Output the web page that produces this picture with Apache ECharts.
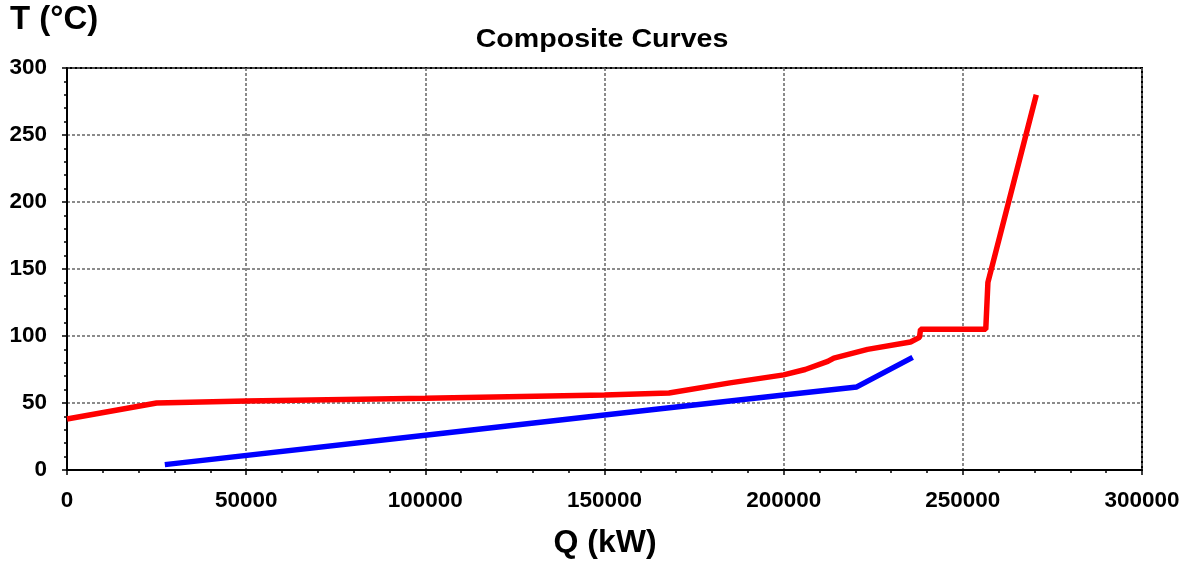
<!DOCTYPE html>
<html><head><meta charset="utf-8">
<script src="https://cdn.jsdelivr.net/npm/echarts@6/dist/echarts.min.js"></script>
<style>html,body{margin:0;padding:0;background:#fff}#c{width:1189px;height:566px}</style>
</head><body><div id="c"></div>
<script>
const hotQ = [0, 25000, 50000, 100000, 150000, 168000, 185000, 200000, 206000, 212300, 214000, 223400, 235400, 237900, 238200, 256400, 257000, 270500];
const hotT = [38, 50, 51.5, 53.5, 56, 57.5, 65, 71, 75, 81, 83.5, 90, 95.5, 99, 105, 105, 140, 280];
const coldQ = [27300, 100000, 150000, 200000, 220400, 236000];
const coldT = [4, 26, 41, 56, 62, 84];
const xTicks = [0, 50000, 100000, 150000, 200000, 250000, 300000];
const yTicks = [0, 50, 100, 150, 200, 250, 300];

const font = 'Liberation Sans, Arial, sans-serif';
const chart = echarts.init(document.getElementById('c'));
const pair = (a, b) => a.map((v, i) => [v, b[i]]);
chart.setOption({
  animation: false,
  graphic: [
    { type: 'text', x: 602, y: 27, style: { text: 'Composite Curves', font: 'bold 26px ' + font, fill: '#000', textAlign: 'center' }, scaleX: 1.1, originX: 0 },
    { type: 'text', x: 10, y: 3, style: { text: 'T (°C)', font: 'bold 33px ' + font, fill: '#000' } },
    { type: 'text', x: 605, y: 527, style: { text: 'Q (kW)', font: 'bold 32px ' + font, fill: '#000', textAlign: 'center' } }
  ],
  grid: { left: 67, right: 47, top: 68, bottom: 96, show: true, borderColor: '#000', borderWidth: 2, backgroundColor: 'transparent' },
  xAxis: {
    type: 'value', min: xTicks[0], max: xTicks[xTicks.length - 1], interval: 50000,
    axisLine: { lineStyle: { color: '#000', width: 2 } },
    axisTick: { show: true, length: 5, lineStyle: { color: '#000', width: 1.5 } },
    minorTick: { show: true, splitNumber: 5, length: 3, lineStyle: { color: '#000', width: 1.5 } },
    splitLine: { show: true, lineStyle: { color: '#666', width: 1.5, type: [3, 2] } },
    axisLabel: { margin: 19, formatter: v => String(v), fontFamily: font, fontWeight: 'bold', fontSize: 22.5, color: '#000' }
  },
  yAxis: {
    type: 'value', min: yTicks[0], max: yTicks[yTicks.length - 1], interval: 50,
    axisLine: { show: true, lineStyle: { color: '#000', width: 2 } },
    axisTick: { show: true, length: 5, lineStyle: { color: '#000', width: 1.5 } },
    minorTick: { show: true, splitNumber: 5, length: 3, lineStyle: { color: '#000', width: 1.5 } },
    splitLine: { show: true, lineStyle: { color: '#666', width: 1.5, type: [3, 2] } },
    axisLabel: { margin: 20, formatter: v => String(v), fontFamily: font, fontWeight: 'bold', fontSize: 22.5, color: '#000' }
  },
  series: [
    { type: 'line', data: pair(hotQ, hotT), showSymbol: false, lineStyle: { color: '#ff0000', width: 5.5 }, z: 3 },
    { type: 'line', data: pair(coldQ, coldT), showSymbol: false, lineStyle: { color: '#0000ff', width: 5.5 }, z: 3 }
  ]
});
</script></body></html>
